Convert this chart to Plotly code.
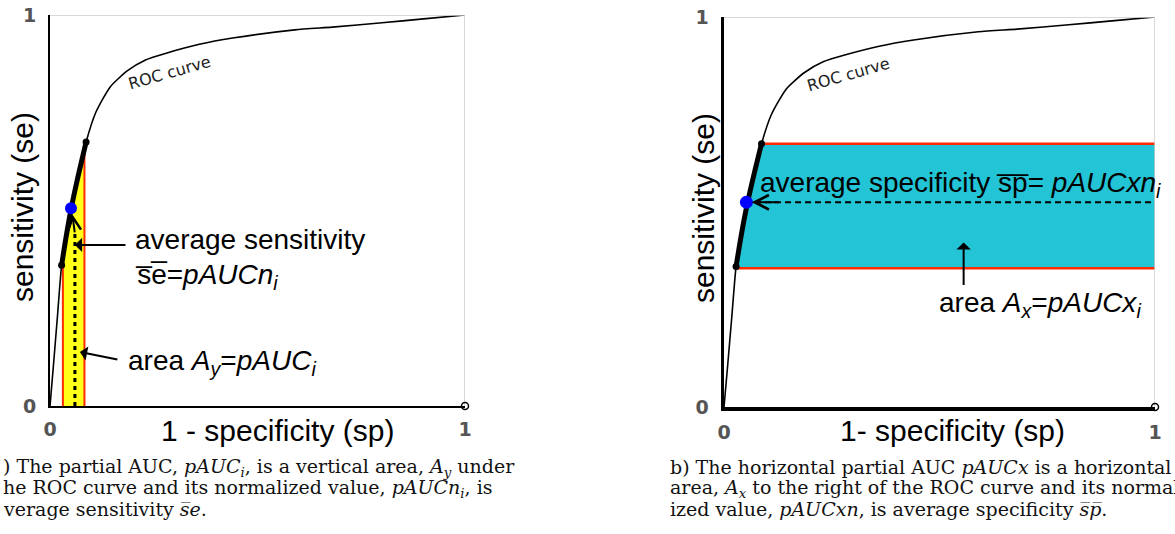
import numpy as np
import plotly.graph_objects as go

# ---------------- data ----------------
roc_fpr = [0, 0.008, 0.018, 0.028, 0.04, 0.052, 0.065, 0.087, 0.11, 0.145, 0.186,
           0.23, 0.282, 0.36, 0.44, 0.59, 0.68, 0.8, 0.9, 1.0]
roc_tpr = [0, 0.10, 0.23, 0.36, 0.44, 0.51, 0.575, 0.675, 0.75, 0.816, 0.857,
           0.885, 0.903, 0.925, 0.941, 0.962, 0.969, 0.98, 0.99, 1.0]

seg_fpr = [0.028, 0.087]          # partial range (thick segment end points)
pauc_fpr = [0.031, 0.083]         # vertical partial area (left panel)
paucx_tpr = [0.356, 0.675]        # horizontal partial area (right panel)
avg_se_point = [0.0506, 0.506]    # blue point left panel (fpr, tpr)
avg_sp_point = [0.052, 0.525]     # blue point right panel (fpr, tpr)
avg_se_x = 0.06                   # dotted vertical line
tick_vals = [0, 1]
tick_text = ["0", "1"]

W, H = 1175, 534
def px(x): return x / W
def py(y): return 1 - y / H

OL = "\u0305"
def over(s):
    return "".join(c + OL for c in s)

roc_fpr_a = np.array(roc_fpr); roc_tpr_a = np.array(roc_tpr)

fig = go.Figure()

SANS = "Liberation Sans"
SERIF = "DejaVu Serif"
RED = "#ff2a00"

for k, (xa, ya) in enumerate([("x", "y"), ("x2", "y2")]):
    # fills
    if k == 0:
        lo, hi = pauc_fpr
        m = (roc_fpr_a > lo) & (roc_fpr_a < hi)
        fx = [lo] + list(roc_fpr_a[m]) + [hi]
        fy = list(np.interp(fx, roc_fpr_a, roc_tpr_a))
        fig.add_trace(go.Scatter(x=fx, y=fy, mode="lines", fill="tozeroy",
                                 fillcolor="#ffff1a", line=dict(width=0),
                                 xaxis=xa, yaxis=ya, hoverinfo="skip"))
        for xv in (lo, hi):
            yv = float(np.interp(xv, roc_fpr_a, roc_tpr_a))
            fig.add_trace(go.Scatter(x=[xv, xv], y=[0, yv], mode="lines",
                                     line=dict(color=RED, width=2),
                                     xaxis=xa, yaxis=ya, hoverinfo="skip"))
    else:
        lo, hi = paucx_tpr
        m = (roc_tpr_a > lo) & (roc_tpr_a < hi)
        by = [lo] + list(roc_tpr_a[m]) + [hi]
        bx = list(np.interp(by, roc_tpr_a, roc_fpr_a))
        fig.add_trace(go.Scatter(x=bx + [1, 1], y=by + [hi, lo], mode="lines",
                                 fill="toself", fillcolor="#22c4d6",
                                 line=dict(width=0), xaxis=xa, yaxis=ya,
                                 hoverinfo="skip"))
        for yv in (lo, hi):
            xv = float(np.interp(yv, roc_tpr_a, roc_fpr_a))
            fig.add_trace(go.Scatter(x=[xv, 1.0], y=[yv, yv], mode="lines",
                                     line=dict(color=RED, width=2.5),
                                     xaxis=xa, yaxis=ya, hoverinfo="skip"))
    # ROC curve
    fig.add_trace(go.Scatter(x=roc_fpr, y=roc_tpr, mode="lines",
                             line=dict(color="black", width=1.6, shape="spline",
                                       smoothing=0.6),
                             xaxis=xa, yaxis=ya, hoverinfo="skip"))
    # thick segment
    m = (roc_fpr_a > seg_fpr[0]) & (roc_fpr_a < seg_fpr[1])
    sx = [seg_fpr[0]] + list(roc_fpr_a[m]) + [seg_fpr[1]]
    sy = list(np.interp(sx, roc_fpr_a, roc_tpr_a))
    fig.add_trace(go.Scatter(x=sx, y=sy, mode="lines",
                             line=dict(color="black", width=5, shape="spline"),
                             xaxis=xa, yaxis=ya, hoverinfo="skip"))
    fig.add_trace(go.Scatter(x=[sx[0], sx[-1]], y=[sy[0], sy[-1]], mode="markers",
                             marker=dict(color="black", size=7),
                             xaxis=xa, yaxis=ya, hoverinfo="skip"))
    # gray frame top/right
    fig.add_trace(go.Scatter(x=[0, 1, 1], y=[1, 1, 0], mode="lines",
                             line=dict(color="#cccccc", width=1.5),
                             xaxis=xa, yaxis=ya, hoverinfo="skip", cliponaxis=False))
    # open circle at (1,0)
    fig.add_trace(go.Scatter(x=[1], y=[0], mode="markers",
                             marker=dict(symbol="circle-open", color="black", size=7,
                                         line=dict(width=1.5)),
                             xaxis=xa, yaxis=ya, hoverinfo="skip", cliponaxis=False))

# left: dotted vertical line
fig.add_trace(go.Scatter(x=[avg_se_x, avg_se_x], y=[0, 0.45], mode="lines",
                         line=dict(color="black", width=3, dash="4px,4px"),
                         xaxis="x", yaxis="y", hoverinfo="skip"))
# right: dashed horizontal line
fig.add_trace(go.Scatter(x=[avg_sp_point[0] + 0.02, 1.0], y=[avg_sp_point[1]] * 2,
                         mode="lines", line=dict(color="black", width=2, dash="6px,4px"),
                         xaxis="x2", yaxis="y2", hoverinfo="skip"))
# blue points
fig.add_trace(go.Scatter(x=[avg_se_point[0]], y=[avg_se_point[1]], mode="markers",
                         marker=dict(color="#0000ff", size=12), xaxis="x", yaxis="y",
                         hoverinfo="skip"))
fig.add_trace(go.Scatter(x=[avg_sp_point[0]], y=[avg_sp_point[1]], mode="markers",
                         marker=dict(color="#0000ff", size=13), xaxis="x2", yaxis="y2",
                         hoverinfo="skip"))

ax_common = dict(range=[0, 1], showgrid=False, zeroline=False, showline=True,
                 linecolor="black", tickvals=tick_vals, ticktext=tick_text, ticks="",
                 tickfont=dict(family="DejaVu Sans", size=19, color="#555555",
                               weight="bold"),
                 fixedrange=True, automargin=False)

fig.update_layout(
    width=W, height=H, autosize=False,
    margin=dict(l=0, r=0, t=0, b=0, autoexpand=False),
    paper_bgcolor="white", plot_bgcolor="white", showlegend=False,
    xaxis=dict(ax_common, domain=[px(50), px(465)], anchor="y", linewidth=2,
               ticklabelstandoff=5),
    yaxis=dict(ax_common, domain=[py(406), py(15)], anchor="x", linewidth=2,
               ticklabelstandoff=8),
    xaxis2=dict(ax_common, domain=[px(724), px(1155)], anchor="y2", linewidth=3.5,
                ticklabelstandoff=6),
    yaxis2=dict(ax_common, domain=[py(407), py(17)], anchor="x2", linewidth=3.5,
                ticklabelstandoff=8),
)

ann = []
TXT = dict(family=SANS, size=28, color="black")
def A(text, x, y, xref, yref, **kw):
    d = dict(text=text, x=x, y=y, xref=xref, yref=yref, showarrow=False,
             xanchor="left", yanchor="middle", font=TXT)
    d.update(kw)
    ann.append(d)

# left panel text
A("average sensitivity", 0.20, 0.425, "x", "y")
A(over("se") + "=<i>pAUCn</i><sub><i>i</i></sub>", 0.20, 0.33, "x", "y")
A("area <i>A</i><sub><i>y</i></sub>=<i>pAUC</i><sub><i>i</i></sub>", 0.183, 0.112, "x", "y")
A("ROC curve", 0.289, 0.854, "x", "y", xanchor="center", textangle=-16,
  font=dict(family="DejaVu Sans", size=16, color="#222222"))
# right panel text
A("average specificity " + over("sp") + "= <i>pAUCxn</i><sub><i>i</i></sub>",
  0.078, 0.57, "x2", "y2")
A("area <i>A</i><sub><i>x</i></sub>=<i>pAUCx</i><sub><i>i</i></sub>", 0.4935, 0.262,
  "x2", "y2")
A("ROC curve", 0.288, 0.852, "x2", "y2", xanchor="center", textangle=-16,
  font=dict(family="DejaVu Sans", size=16, color="#222222"))

# axis titles
AX = dict(family=SANS, size=30, color="black")
A("sensitivity (se)", px(23), py(207), "paper", "paper", xanchor="center",
  textangle=-90, font=AX)
A("1 - specificity (sp)", px(277), py(430), "paper", "paper", xanchor="center", font=AX)
A("sensitivity (se)", px(703), py(208), "paper", "paper", xanchor="center",
  textangle=-90, font=AX)
A("1- specificity (sp)", px(952), py(430), "paper", "paper", xanchor="center", font=AX)

# arrows
def arrow(x, y, ax, ay, xr, yr, head=1, size=1.2):
    ann.append(dict(x=x, y=y, ax=ax, ay=ay, xref=xr, yref=yr, axref=xr, ayref=yr,
                    text="", showarrow=True, arrowhead=head, arrowsize=size,
                    arrowwidth=2, arrowcolor="black"))

arrow(avg_se_x, 0.412, 0.1855, 0.412, "x", "y", head=1)
arrow(0.072, 0.138, 0.166, 0.118, "x", "y", head=1)
arrow(0.054, 0.49, avg_se_x, 0.44, "x", "y", head=5, size=1.3)
arrow(avg_sp_point[0] + 0.012, avg_sp_point[1], 0.13, avg_sp_point[1], "x2", "y2",
      head=5, size=1.4)
arrow(0.556, 0.422, 0.556, 0.309, "x2", "y2", head=1)

# captions
CAP = dict(family=SERIF, size=19, color="#111111")
capL = [") The partial AUC, <i>pAUC</i><sub><i>i</i></sub>, is a vertical area, "
        "<i>A</i><sub><i>y</i></sub> under",
        "he ROC curve and its normalized value, <i>pAUCn</i><sub><i>i</i></sub>, is",
        "verage sensitivity <i>" + over("s") + "e</i>."]
capR = ["b) The horizontal partial AUC <i>pAUCx</i> is a horizontal",
        "area, <i>A</i><sub><i>x</i></sub> to the right of the ROC curve and its normal",
        "ized value, <i>pAUCxn</i>, is average specificity <i>" + over("sp") + "</i>."]
for i, t in enumerate(capL):
    A(t, px(1), py(467 + 21 * i), "paper", "paper", font=CAP)
for i, t in enumerate(capR):
    A(t, px(668), py(467 + 21 * i), "paper", "paper", font=CAP)

fig.update_layout(annotations=ann)
fig.write_html("out.html",
               config={"displayModeBar": False, "staticPlot": True},
               post_script="document.body.style.margin='0';"
                           "document.body.style.overflow='hidden';")
